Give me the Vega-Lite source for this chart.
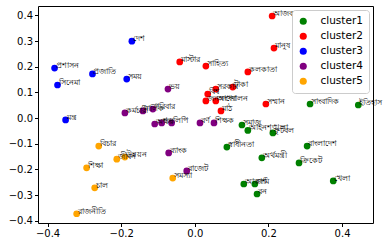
{
  "$schema": "https://vega.github.io/schema/vega-lite/v6.json",
  "width": 335,
  "height": 217,
  "autosize": "none",
  "padding": {"left": 38, "top": 6, "right": 13, "bottom": 25},
  "background": "white",
  "config": {
    "view": {"stroke": "black", "strokeWidth": 1},
    "font": "DejaVu Sans",
    "axis": {"grid": false, "domain": false, "tickColor": "black", "tickSize": 3.5, "labelColor": "black", "labelFontSize": 10, "labelFont": "DejaVu Sans", "labelPadding": 2, "title": null}
  },
  "data": {"values": [
    {"x": -0.171, "y": 0.300, "label": "দেশ", "cluster": "cluster3"},
    {"x": -0.381, "y": 0.195, "label": "প্রশাসন", "cluster": "cluster3"},
    {"x": -0.278, "y": 0.172, "label": "প্রজাতি", "cluster": "cluster3"},
    {"x": -0.373, "y": 0.129, "label": "সিনেমা", "cluster": "cluster3"},
    {"x": -0.185, "y": 0.152, "label": "সময়", "cluster": "cluster3"},
    {"x": -0.351, "y": -0.007, "label": "মন্ত্র", "cluster": "cluster3"},
    {"x": 0.210, "y": 0.398, "label": "আজকাল", "cluster": "cluster2"},
    {"x": 0.215, "y": 0.273, "label": "মানুষ", "cluster": "cluster2"},
    {"x": -0.041, "y": 0.219, "label": "মাস্টার", "cluster": "cluster2"},
    {"x": 0.030, "y": 0.203, "label": "সাহিত্য", "cluster": "cluster2"},
    {"x": 0.144, "y": 0.180, "label": "কলকাতা", "cluster": "cluster2"},
    {"x": 0.057, "y": 0.113, "label": "সরকার", "cluster": "cluster2"},
    {"x": 0.103, "y": 0.121, "label": "টাকা", "cluster": "cluster2"},
    {"x": 0.035, "y": 0.094, "label": "বিশ্ব", "cluster": "cluster2"},
    {"x": 0.030, "y": 0.067, "label": "জনসংখ্যা", "cluster": "cluster2"},
    {"x": 0.057, "y": 0.067, "label": "আন্দোলন", "cluster": "cluster2"},
    {"x": 0.071, "y": 0.028, "label": "মাঠ", "cluster": "cluster2"},
    {"x": 0.193, "y": 0.055, "label": "সম্মান", "cluster": "cluster2"},
    {"x": 0.313, "y": 0.055, "label": "সাংবাদিক", "cluster": "cluster1"},
    {"x": 0.444, "y": 0.051, "label": "ইতিহাস", "cluster": "cluster1"},
    {"x": 0.128, "y": -0.027, "label": "সমাজ", "cluster": "cluster1"},
    {"x": 0.144, "y": -0.048, "label": "আইনশৃঙ্খলা", "cluster": "cluster1"},
    {"x": 0.212, "y": -0.058, "label": "ফুটবল", "cluster": "cluster1"},
    {"x": 0.087, "y": -0.113, "label": "স্বাধীনতা", "cluster": "cluster1"},
    {"x": 0.305, "y": -0.109, "label": "বাংলাদেশ", "cluster": "cluster1"},
    {"x": 0.182, "y": -0.155, "label": "অর্থমন্ত্রী", "cluster": "cluster1"},
    {"x": 0.283, "y": -0.175, "label": "ক্রিকেট", "cluster": "cluster1"},
    {"x": 0.376, "y": -0.245, "label": "খেলা", "cluster": "cluster1"},
    {"x": 0.133, "y": -0.257, "label": "আকাশ", "cluster": "cluster1"},
    {"x": 0.163, "y": -0.257, "label": "জমি", "cluster": "cluster1"},
    {"x": 0.169, "y": -0.296, "label": "বন", "cluster": "cluster1"},
    {"x": -0.073, "y": 0.113, "label": "ভয়", "cluster": "cluster4"},
    {"x": -0.190, "y": 0.020, "label": "কর্মচারী", "cluster": "cluster4"},
    {"x": -0.141, "y": 0.028, "label": "মালিক", "cluster": "cluster4"},
    {"x": -0.114, "y": 0.035, "label": "পরিবার", "cluster": "cluster4"},
    {"x": -0.109, "y": -0.023, "label": "অক্ষর", "cluster": "cluster4"},
    {"x": -0.090, "y": -0.019, "label": "শব্দ", "cluster": "cluster4"},
    {"x": -0.063, "y": -0.019, "label": "লিপি", "cluster": "cluster4"},
    {"x": 0.014, "y": -0.019, "label": "বর্ণ", "cluster": "cluster4"},
    {"x": 0.052, "y": -0.019, "label": "শিক্ষক", "cluster": "cluster4"},
    {"x": -0.071, "y": -0.136, "label": "ব্যাংক", "cluster": "cluster4"},
    {"x": -0.022, "y": -0.206, "label": "বাজেট", "cluster": "cluster4"},
    {"x": -0.261, "y": -0.109, "label": "বিচার", "cluster": "cluster5"},
    {"x": -0.212, "y": -0.160, "label": "জীবন", "cluster": "cluster5"},
    {"x": -0.190, "y": -0.152, "label": "উন্নয়ন", "cluster": "cluster5"},
    {"x": -0.294, "y": -0.194, "label": "শিক্ষা", "cluster": "cluster5"},
    {"x": -0.272, "y": -0.272, "label": "চাল", "cluster": "cluster5"},
    {"x": -0.321, "y": -0.373, "label": "রাজনীতি", "cluster": "cluster5"},
    {"x": -0.060, "y": -0.234, "label": "সমস্যা", "cluster": "cluster5"}
  ]},
  "encoding": {
    "x": {"field": "x", "type": "quantitative", "scale": {"domain": [-0.426, 0.484], "nice": false, "zero": false},
          "axis": {"values": [-0.4, -0.2, 0.0, 0.2, 0.4], "format": ".1f", "labelExpr": "replace(datum.label, '-', '−')"}},
    "y": {"field": "y", "type": "quantitative", "scale": {"domain": [-0.409, 0.437], "nice": false, "zero": false},
          "axis": {"values": [-0.4, -0.3, -0.2, -0.1, 0.0, 0.1, 0.2, 0.3, 0.4], "format": ".1f", "labelExpr": "replace(datum.label, '-', '−')"}}
  },
  "layer": [
    {
      "mark": {"type": "circle", "opacity": 1, "size": 45},
      "encoding": {
        "color": {"field": "cluster", "type": "nominal",
          "scale": {"domain": ["cluster1", "cluster2", "cluster3", "cluster4", "cluster5"], "range": ["green", "red", "blue", "purple", "orange"]},
          "legend": {"title": null, "orient": "top-right", "offset": 4, "fillColor": "white", "strokeColor": "#cccccc", "cornerRadius": 3, "padding": 6, "labelFontSize": 10.5, "labelFont": "DejaVu Sans", "labelColor": "black", "symbolType": "circle", "symbolSize": 50, "rowPadding": 4, "labelOffset": 12, "symbolOpacity": 1}
        }
      }
    },
    {
      "mark": {"type": "text", "align": "left", "baseline": "alphabetic", "fontSize": 8, "color": "black", "dx": 1},
      "encoding": {"text": {"field": "label"}}
    }
  ]
}
